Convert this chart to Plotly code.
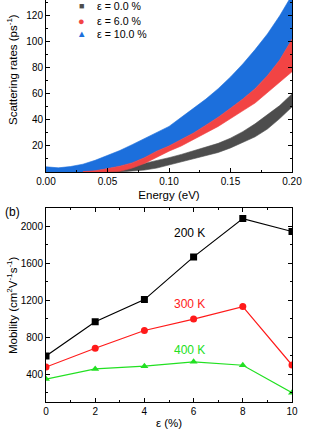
import plotly.graph_objects as go

# ---------------- data ----------------
energy = [0, 0.01, 0.02, 0.03, 0.04, 0.05, 0.06, 0.07, 0.08, 0.09, 0.10,
          0.11, 0.12, 0.13, 0.14, 0.15, 0.16, 0.17, 0.18, 0.19, 0.20]
# band edges of the scattering-rate clouds (ps^-1)
blue_upper = [4, 3.2, 4.2, 6, 9, 12.5, 16.5, 21, 25.5, 30, 35,
              42, 49, 56, 64, 73, 83, 94, 106, 120, 136]
blue_lower = [0, 0, 0, 0, 1, 2.6, 4.5, 7, 11, 16, 20,
              25, 30, 36, 42, 49, 56, 64, 74, 86, 102]
red_energy = [0.03, 0.04, 0.05, 0.06, 0.07, 0.08, 0.09, 0.10, 0.11, 0.12,
              0.13, 0.14, 0.15, 0.16, 0.17, 0.18, 0.19, 0.20]
red_upper = [0.3, 1, 2.6, 4.5, 7, 11, 16, 20, 25, 30,
             36, 42, 49, 56, 64, 74, 86, 102]
red_lower = [0, 0, 0, 0.5, 3, 6.5, 11, 16, 20, 25,
             30, 35, 41, 47, 53, 61, 69, 77]
gray_energy = [0.04, 0.05, 0.06, 0.07, 0.08, 0.09, 0.10, 0.11, 0.12, 0.13,
               0.14, 0.15, 0.16, 0.17, 0.18, 0.19, 0.20]
gray_upper = [0.3, 1.5, 3, 4.5, 6.5, 8.5, 11, 13.5, 16.5, 19,
              22, 26, 31, 37, 44, 51, 60]
gray_lower = [0, 0, 0, 0.5, 1.5, 3, 5, 7.5, 10, 12.5,
              15, 18.5, 22.5, 27, 33, 41, 50]

strain = [0, 2, 4, 6, 8, 10]
mob_200K = [596, 967, 1207, 1670, 2085, 1945]
mob_300K = [476, 680, 872, 996, 1131, 498]
mob_400K = [345, 455, 485, 532, 495, 197]

legend_labels = ["ε = 0.0 %", "ε = 6.0 %", "ε = 10.0 %"]
legend_glyphs = ["■", "●", "▲"]
temp_labels = ["200 K", "300 K", "400 K"]

GRAY = "#4d4d4d"
RED = "#f24444"
BLUE = "#1c6fdc"
GREEN = "#22e022"
FONT = "Liberation Sans, Arial, sans-serif"

fig = go.Figure()


def band(x, lo, hi, color):
    fig.add_trace(go.Scatter(
        x=list(x) + list(x)[::-1], y=list(hi) + list(lo)[::-1],
        fill="toself", fillcolor=color, mode="lines",
        line=dict(width=0.6, color=color), showlegend=False,
        hoverinfo="skip", xaxis="x", yaxis="y"))


band(gray_energy, gray_lower, gray_upper, GRAY)
band(energy, blue_lower, blue_upper, BLUE)
band(red_energy, red_lower, red_upper, RED)

# mobility panel
for vals, col, sym in zip([mob_200K, mob_300K, mob_400K],
                          ["#000000", "#ff1a1a", GREEN],
                          ["square", "circle", "triangle-up"]):
    fig.add_trace(go.Scatter(x=strain, y=vals, mode="lines+markers",
                             line=dict(color=col, width=1.2),
                             marker=dict(symbol=sym, color=col, size=7),
                             showlegend=False, hoverinfo="skip",
                             xaxis="x2", yaxis="y2"))

tickfont = dict(family=FONT, size=10, color="#000")
axcommon = dict(showline=True, linecolor="#000", linewidth=1, ticks="inside",
                ticklen=4, tickwidth=1, tickcolor="#000", showgrid=False,
                zeroline=False, tickfont=tickfont, automargin=False,
                fixedrange=True)

fig.update_layout(
    width=332, height=430, margin=dict(l=0, r=0, t=0, b=0, autoexpand=False),
    paper_bgcolor="white", plot_bgcolor="white",
    font=dict(family=FONT, color="#000"),
    showlegend=False, hovermode=False, dragmode=False,
    xaxis=dict(domain=[46 / 332, 292 / 332], range=[0, 0.2], anchor="y",
               tickvals=[0, 0.05, 0.10, 0.15, 0.20],
               ticktext=["0.00", "0.05", "0.10", "0.15", "0.20"],
               minor=dict(dtick=0.025, ticks="inside", ticklen=2,
                          tickcolor="#000"),
               title=dict(text="Energy (eV)", font=dict(family=FONT, size=11.5),
                          standoff=4),
               **axcommon),
    yaxis=dict(domain=[1 - 172 / 430, 1], range=[0, 132.1], anchor="x",
               tickvals=[20, 40, 60, 80, 100, 120], mirror="ticks",
               minor=dict(dtick=10, ticks="inside", ticklen=2,
                          tickcolor="#000"),
               **axcommon),
    xaxis2=dict(domain=[46 / 332, 292 / 332], range=[0, 10], anchor="y2",
                tickvals=[0, 2, 4, 6, 8, 10], mirror="ticks",
                minor=dict(dtick=1, ticks="inside", ticklen=2,
                           tickcolor="#000"),
                title=dict(text="ε (%)", font=dict(family=FONT, size=11.5),
                           standoff=3),
                **axcommon),
    yaxis2=dict(domain=[1 - 401.7 / 430, 1 - 208 / 430], range=[100, 2200],
                anchor="x2", tickvals=[400, 800, 1200, 1600, 2000],
                mirror="ticks",
                minor=dict(dtick=200, ticks="inside", ticklen=2,
                           tickcolor="#000"),
                **axcommon),
)

# legend built from text (symbols + labels), rows tightly spaced as in the reference
for lab, glyph, col, row_y, gsize in zip(legend_labels, legend_glyphs,
                                         [GRAY, RED, BLUE], [5.5, 20.5, 34],
                                         [9, 11, 9.5]):
    fig.add_annotation(text=glyph, xref="paper", yref="paper", x=81 / 332,
                       y=1 - row_y / 430, xanchor="center", yanchor="middle",
                       showarrow=False,
                       font=dict(family=FONT, size=gsize, color=col))
    fig.add_annotation(text=lab, xref="paper", yref="paper", x=95 / 332,
                       y=1 - row_y / 430, xanchor="left", yanchor="middle",
                       showarrow=False, font=dict(family=FONT, size=10.6))

fig.add_annotation(text="Scattering rates (ps<sup>-1</sup>)", xref="paper",
                   yref="paper", x=12 / 332, y=1 - 70 / 430, textangle=-90,
                   xanchor="center", yanchor="middle",
                   showarrow=False, font=dict(family=FONT, size=11.5))
fig.add_annotation(text="Mobility (cm<sup>2</sup>V<sup>-1</sup>s<sup>-1</sup>)",
                   xref="paper", yref="paper", x=12 / 332, y=1 - 305 / 430,
                   xanchor="center", yanchor="middle",
                   textangle=-90, showarrow=False,
                   font=dict(family=FONT, size=11.5))
fig.add_annotation(text="(b)", xref="paper", yref="paper", x=12 / 332,
                   y=1 - 212 / 430, xanchor="center", yanchor="middle",
                   showarrow=False, font=dict(family=FONT, size=12))

for lab, yv, col in zip(temp_labels, [1929, 1155, 664],
                        ["#000000", "#ff1a1a", GREEN]):
    fig.add_annotation(text=lab, x=5.85, y=yv, xref="x2", yref="y2",
                       showarrow=False, font=dict(family=FONT, size=12,
                                                  color=col))

fig.write_html("out.html", config={"staticPlot": True},
               post_script="document.body.style.margin='0';"
                           "document.body.style.overflow='hidden';")
